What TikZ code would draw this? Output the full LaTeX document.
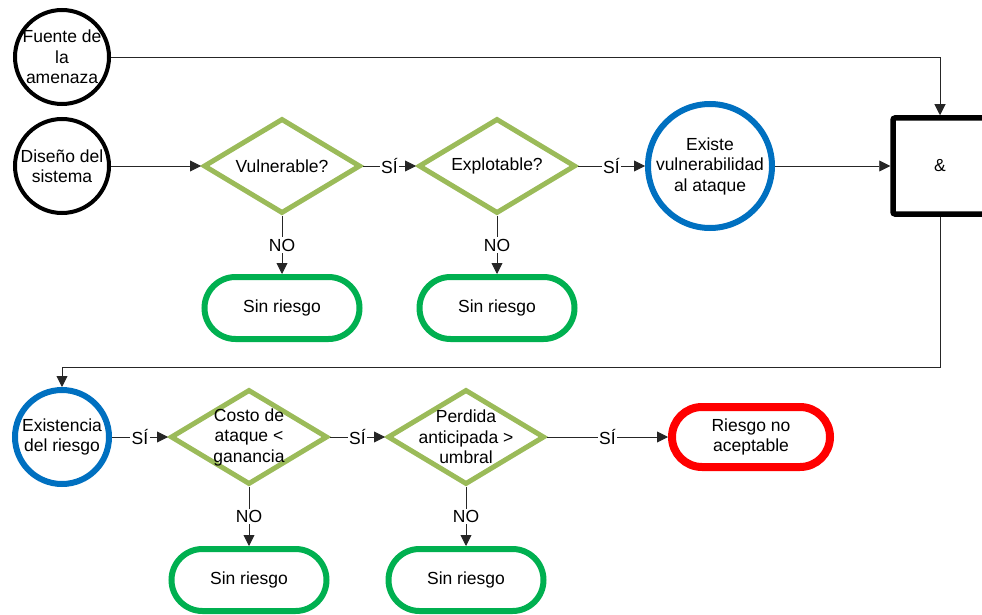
\documentclass[tikz,border=0pt]{standalone}
\usepackage{fontspec}
\setmainfont{Liberation Sans}
\usetikzlibrary{arrows.meta,shapes.geometric,shapes.misc}
\definecolor{diagreen}{HTML}{9BBB59}
\definecolor{endgreen}{HTML}{00B050}
\definecolor{riskblue}{HTML}{0070C0}
\definecolor{riskred}{HTML}{FF0000}
\begin{document}
\begin{tikzpicture}[x=1pt,y=-1pt,
  every node/.style={font=\fontsize{17.5}{20.5}\selectfont},
  txt/.style={align=center,inner sep=0pt},
  startcirc/.style={circle,draw=black,line width=4pt,minimum size=94pt,inner sep=0pt},
  bluecirc/.style={circle,draw=riskblue,line width=6pt,inner sep=0pt},
  question/.style={diamond,draw=diagreen,line width=5pt,minimum width=157pt,minimum height=95pt,inner sep=0pt},
  noriskbox/.style={rounded rectangle,draw=endgreen,line width=6pt,minimum width=155pt,minimum height=62pt,inner sep=0pt,align=center},
  riskbox/.style={rounded rectangle,draw=riskred,line width=8pt,minimum width=158pt,minimum height=60pt,inner sep=0pt,align=center},
  andbox/.style={rectangle,draw=black,line width=5.5pt,rounded corners=2pt,minimum width=94pt,minimum height=96pt,inner sep=0pt},
  arr/.style={draw=black!85,line width=0.9pt,-{Triangle[length=11pt,width=11pt]}},
  lbl/.style={fill=white,inner sep=1.5pt}]
\useasboundingbox (0,0) rectangle (982,615);

% upper chain
\node[startcirc,label={[txt]center:Fuente de\\la\\amenaza}] (fuente) at (62,57) {};
\node[startcirc,label={[txt]center:Diseño del\\sistema}] (diseno) at (62,166) {};
\node[question,label={[txt]center:Vulnerable?}] (vul) at (282,166) {};
\node[question,label={[txt]center:Explotable?}] (expl) at (497,166) {};
\node[bluecirc,minimum size=124pt,label={[txt]center:Existe\\vulnerabilidad\\al ataque}] (existe) at (710,166) {};
\node[andbox] (and) at (940,166) {\&};
\node[noriskbox] (sr1) at (282,308) {Sin riesgo};
\node[noriskbox] (sr2) at (497,308) {Sin riesgo};

% lower chain
\node[bluecirc,minimum size=94pt,label={[txt]center:Existencia\\del riesgo}] (riesgo) at (62,437) {};
\node[question,label={[txt]center:Costo de\\ataque <\\ganancia}] (costo) at (249,437) {};
\node[question,label={[txt]center:Perdida\\anticipada >\\umbral}] (perdida) at (466,437) {};
\node[riskbox] (noacept) at (751,437) {Riesgo no\\aceptable};
\node[noriskbox] (sr3) at (249,580) {Sin riesgo};
\node[noriskbox] (sr4) at (466,580) {Sin riesgo};

\coordinate (bend) at (62,367);

% connectors
\draw[arr] (fuente.east) -| (and.north);
\draw[arr] (diseno.east) -- (vul.west);
\draw[arr] (vul.east) -- node[lbl]{SÍ} (expl.west);
\draw[arr] (expl.east) -- node[lbl]{SÍ} (existe.west);
\draw[arr] (existe.east) -- (and.west);
\draw[arr] (vul.south) -- node[lbl]{NO} (sr1.north);
\draw[arr] (expl.south) -- node[lbl]{NO} (sr2.north);
\draw[arr] (and.south) |- (bend) -- (riesgo.north);
\draw[arr] (riesgo.east) -- node[lbl]{SÍ} (costo.west);
\draw[arr] (costo.east) -- node[lbl]{SÍ} (perdida.west);
\draw[arr] (perdida.east) -- node[lbl]{SÍ} (noacept.west);
\draw[arr] (costo.south) -- node[lbl]{NO} (sr3.north);
\draw[arr] (perdida.south) -- node[lbl]{NO} (sr4.north);
\end{tikzpicture}
\end{document}
